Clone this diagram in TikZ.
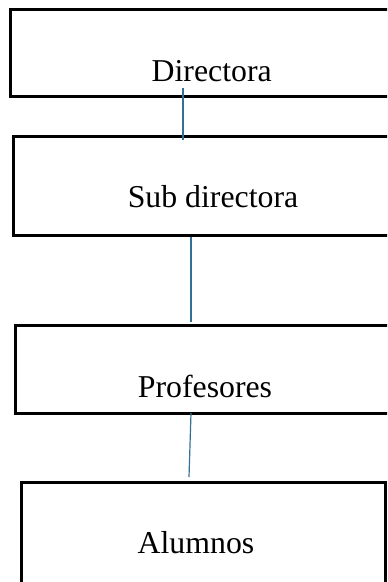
\documentclass[tikz,border=0pt]{standalone}
\usepackage{fontspec}
\setmainfont{Liberation Serif}
\definecolor{linkblue}{RGB}{52,112,148}
\begin{document}
\begin{tikzpicture}[x=0.5pt,y=-0.5pt,
  box/.style={draw=black,line width=1.5pt,rectangle,inner sep=0pt,outer sep=0pt},
  lbl/.style={font=\fontsize{15.9}{19}\selectfont,anchor=base,inner sep=0pt},
  link/.style={draw=linkblue,line width=0.6pt}]
\useasboundingbox (0,0) rectangle (387,582);
\clip (0,0) rectangle (387,582);
\node[box,minimum width=200pt,minimum height=43.5pt] (b1) at (210,53.5) {};
\node[box,minimum width=198.5pt,minimum height=49.5pt] (b2) at (211.5,186.5) {};
\node[box,minimum width=197.5pt,minimum height=44pt] (b3) at (212.5,369) {};
\node[box,minimum width=182pt,minimum height=64pt] (b4) at (203,546) {};
\node[lbl] (t1) at (211.7,82) {Directora};
\node[lbl] (t2) at (213,208) {Sub directora};
\node[lbl] (t3) at (205,397) {Profesores};
\node[lbl] (t4) at (196,553) {Alumnos};
\coordinate (c1a) at (183,88);
\coordinate (c1b) at (183,140);
\coordinate (c2a) at (191,237);
\coordinate (c2b) at (191,322);
\coordinate (c3a) at (191,413);
\coordinate (c3b) at (189,477);
\draw[link] (c1a) -- (c1b);
\draw[link] (c2a) -- (c2b);
\draw[link] (c3a) -- (c3b);
\end{tikzpicture}
\end{document}
